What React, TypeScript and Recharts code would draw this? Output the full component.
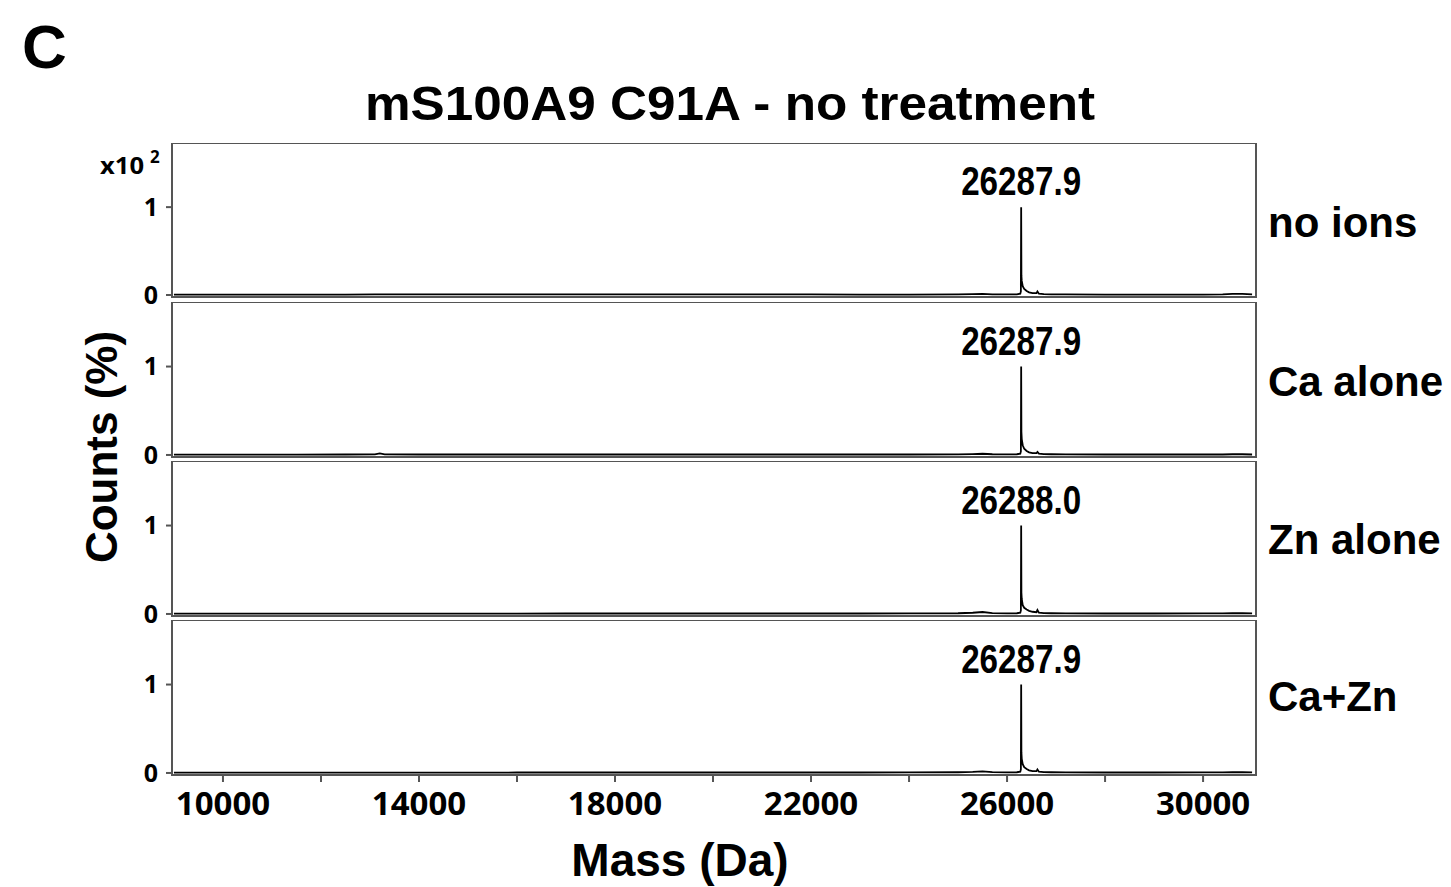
import { LineChart, Line, XAxis, YAxis, ReferenceArea, ReferenceDot } from "recharts";

const massDa = [9000, 9500, 10500, 11500, 12500, 13100, 13200, 13300, 14000, 15000, 16000, 17000, 18000, 19000, 20000, 21000, 22000, 23000, 24000, 25000, 25300, 25500, 25700, 26000, 26200, 26270, 26282, 26288, 26293, 26300, 26320, 26350, 26400, 26450, 26520, 26600, 26620, 26650, 26750, 26900, 27200, 28000, 29000, 30000, 30400, 30600, 30800, 31000];

const noIons = [0.004, 0.004, 0.004, 0.005, 0.005, 0.006, 0.006, 0.006, 0.006, 0.007, 0.007, 0.008, 0.007, 0.007, 0.006, 0.006, 0.006, 0.005, 0.005, 0.006, 0.01, 0.012, 0.008, 0.006, 0.008, 0.015, 0.04, 1.0, 0.22, 0.16, 0.1, 0.07, 0.045, 0.03, 0.02, 0.02, 0.04, 0.015, 0.01, 0.008, 0.006, 0.005, 0.005, 0.005, 0.006, 0.012, 0.012, 0.006];
const caAlone = [0.004, 0.004, 0.004, 0.004, 0.005, 0.006, 0.018, 0.006, 0.005, 0.005, 0.005, 0.005, 0.005, 0.005, 0.005, 0.005, 0.005, 0.005, 0.005, 0.006, 0.01, 0.014, 0.008, 0.006, 0.008, 0.015, 0.04, 1.0, 0.26, 0.18, 0.11, 0.07, 0.045, 0.03, 0.02, 0.02, 0.035, 0.015, 0.01, 0.008, 0.006, 0.005, 0.005, 0.005, 0.005, 0.008, 0.008, 0.005];
const znAlone = [0.004, 0.004, 0.004, 0.004, 0.004, 0.004, 0.004, 0.004, 0.004, 0.004, 0.004, 0.005, 0.005, 0.005, 0.005, 0.005, 0.005, 0.005, 0.006, 0.008, 0.014, 0.022, 0.01, 0.006, 0.008, 0.015, 0.04, 1.0, 0.24, 0.17, 0.1, 0.07, 0.05, 0.035, 0.025, 0.02, 0.045, 0.015, 0.01, 0.008, 0.006, 0.005, 0.005, 0.006, 0.006, 0.008, 0.008, 0.006];
const caZn = [0.004, 0.004, 0.004, 0.004, 0.004, 0.004, 0.004, 0.004, 0.004, 0.004, 0.005, 0.005, 0.005, 0.005, 0.005, 0.005, 0.005, 0.005, 0.006, 0.008, 0.012, 0.018, 0.01, 0.006, 0.008, 0.015, 0.04, 1.0, 0.23, 0.16, 0.1, 0.065, 0.045, 0.03, 0.02, 0.02, 0.04, 0.015, 0.01, 0.008, 0.006, 0.005, 0.005, 0.006, 0.006, 0.008, 0.008, 0.006];

const panelNames = ["no ions", "Ca alone", "Zn alone", "Ca+Zn"];
const peakLabels = ["26287.9", "26287.9", "26288.0", "26287.9"];
const peakMass = [26287.9, 26287.9, 26288.0, 26287.9];
const series = [noIons, caAlone, znAlone, caZn];

const xTicks = [10000, 12000, 14000, 16000, 18000, 20000, 22000, 24000, 26000, 28000, 30000];
const xLabelled = [10000, 14000, 18000, 22000, 26000, 30000];
const yTicks = [0, 1];

const X_DOMAIN: [number, number] = [8960, 31080];
const Y_DOMAIN: [number, number] = [-0.023, 1.73];
const panelTops = [143, 302, 461, 620];
const panelHeights = [154, 155, 155, 155];
const nameBaselines = [237, 396, 554, 711];

const BOLD = "'Liberation Sans', Arial, sans-serif";
const NARROW = "'Liberation Sans Narrow', 'Liberation Sans', Arial, sans-serif";
const TICK_FONT = "'Open Sans', 'Noto Sans', sans-serif";

function PeakLabel({ viewBox, text }: any) {
  if (!viewBox) return null;
  const cx = viewBox.x + (viewBox.width || 0) / 2;
  return <text x={cx} y={viewBox.y - 12} textAnchor="middle" fontFamily={NARROW} fontWeight="bold" fontSize={41} fill="#000" textLength={120} lengthAdjust="spacingAndGlyphs">{text}</text>;
}

function Panel({ index }: { index: number }) {
  const last = index === series.length - 1;
  const rows = massDa.map((mass, i) => ({ mass, counts: series[index][i] }));
  // extra room under the upper panels so their "0" tick label is not clipped
  const pad = last ? 0 : 16;
  const h = panelHeights[index] + (last ? 60 : pad);
  return <div style={{ position: "absolute", left: 0, top: panelTops[index] }}>
    <LineChart width={1451} height={h} data={rows} margin={{ top: 0, right: 195, bottom: pad, left: 0 }}>
      <XAxis dataKey="mass" type="number" domain={X_DOMAIN} allowDataOverflow hide={!last} ticks={xTicks} interval={0}
        tickFormatter={(v) => (xLabelled.includes(Number(v)) ? String(v) : "")}
        axisLine={false} tickSize={7} tickMargin={10} height={60}
        tickLine={{ stroke: "#555", strokeWidth: 2 }}
        tick={{ fill: "#000", fontSize: 33, fontWeight: 700, fontFamily: TICK_FONT }} />
      <YAxis type="number" domain={Y_DOMAIN} allowDataOverflow ticks={yTicks} interval={0} width={172} axisLine={false}
        tickSize={6} tickMargin={8} tickLine={{ stroke: "#555", strokeWidth: 2 }} fontSize={25}
        tick={{ fill: "#000", fontSize: 25, fontWeight: 700, fontFamily: TICK_FONT }} />
      <Line type="linear" dataKey="counts" stroke="#000" strokeWidth={1.8} dot={false} isAnimationActive={false} />
      <ReferenceArea x1={X_DOMAIN[0]} x2={X_DOMAIN[1]} y1={Y_DOMAIN[0]} y2={Y_DOMAIN[1]} fill="none" fillOpacity={0} stroke="#555" strokeWidth={2} ifOverflow="visible" />
      <ReferenceDot x={peakMass[index]} y={1} r={0} fill="none" stroke="none" label={<PeakLabel text={peakLabels[index]} />} />
    </LineChart>
  </div>;
}

export default function App() {
  return <div style={{ position: "absolute", left: 0, top: 0, width: 1451, height: 887, background: "#fff", overflow: "hidden" }}>
    {series.map((_, i) => <Panel key={i} index={i} />)}
    <svg width={1451} height={887} style={{ position: "absolute", left: 0, top: 0, pointerEvents: "none" }}>
      <text x={22} y={68} fontFamily={BOLD} fontWeight="bold" fontSize={62}>C</text>
      <text x={730} y={120} textAnchor="middle" fontFamily={BOLD} fontWeight="bold" fontSize={49} textLength={730} lengthAdjust="spacingAndGlyphs">mS100A9 C91A - no treatment</text>
      <text x={100} y={174} fontFamily={TICK_FONT} fontWeight="bold" fontSize={23} textLength={44} lengthAdjust="spacingAndGlyphs">x10</text>
      <text x={150} y={163} fontFamily={TICK_FONT} fontWeight="bold" fontSize={17}>2</text>
      {panelNames.map((name, i) => <text key={name} x={1268} y={nameBaselines[i]} fontFamily={BOLD} fontWeight="bold" fontSize={42}>{name}</text>)}
      <text x={117} y={447} transform="rotate(-90 117 447)" textAnchor="middle" fontFamily={BOLD} fontWeight="bold" fontSize={44}>Counts (%)</text>
      <text x={680} y={876} textAnchor="middle" fontFamily={BOLD} fontWeight="bold" fontSize={46}>Mass (Da)</text>
    </svg>
  </div>;
}
